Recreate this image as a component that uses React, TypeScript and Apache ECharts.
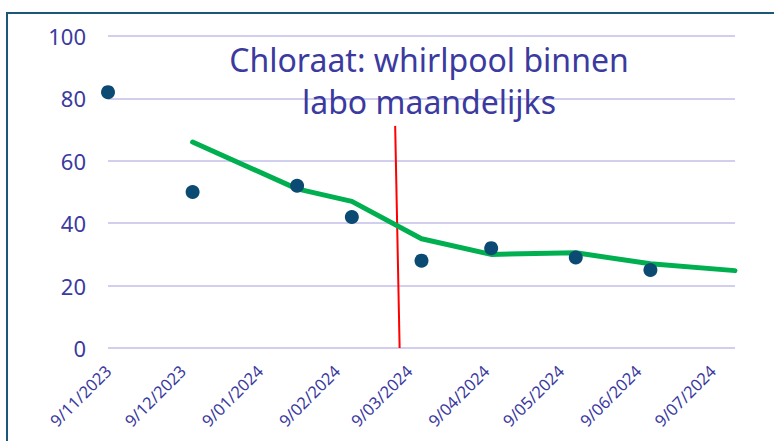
import React, { useEffect, useRef } from "react";
import * as echarts from "echarts";

// Data (dates as [year, monthIndex(0-based), day])
const measureDates: [number, number, number][] = [
  [2023, 10, 9],
  [2023, 11, 13],
  [2024, 0, 24],
  [2024, 1, 15],
  [2024, 2, 14],
  [2024, 3, 11],
  [2024, 4, 15],
  [2024, 5, 14],
];
const chloraatValues = [82, 50, 52, 42, 28, 32, 29, 25];

// moving-average trend line (2 points)
const trendDates: [number, number, number][] = [
  [2023, 11, 13],
  [2024, 0, 24],
  [2024, 1, 15],
  [2024, 2, 14],
  [2024, 3, 11],
  [2024, 4, 15],
  [2024, 5, 14],
  [2024, 6, 18],
];
const trendValues = [66, 51, 47, 35, 30, 30.5, 27, 24.8];

// vertical marker (change moment)
const markerPoints: [string, number][] = [
  ["2024-03-03T10:00:00", 71.2],
  ["2024-03-05T05:00:00", 0],
];

const tickDates: [number, number, number][] = [
  [2023, 10, 9],
  [2023, 11, 9],
  [2024, 0, 9],
  [2024, 1, 9],
  [2024, 2, 9],
  [2024, 3, 9],
  [2024, 4, 9],
  [2024, 5, 9],
  [2024, 6, 9],
];
const axisMinDate: [number, number, number] = [2023, 10, 9];
const axisMaxDate: [number, number, number] = [2024, 6, 18];

const titleText = "Chloraat: whirlpool binnen\nlabo maandelijks";

const ts = (d: [number, number, number]) => new Date(d[0], d[1], d[2]).getTime();
const pad = (n: number) => (n < 10 ? "0" + n : "" + n);
const fmt = (v: number) => {
  const d = new Date(v);
  return `${d.getDate()}/${pad(d.getMonth() + 1)}/${d.getFullYear()}`;
};

export default function App() {
  const ref = useRef<HTMLDivElement>(null);
  useEffect(() => {
    if (!ref.current) return;
    const chart = echarts.init(ref.current, null, { renderer: "svg" });
    const textColor = "#3b3a9f";
    const font = "Noto Sans";
    chart.setOption({
      animation: false,
      backgroundColor: "#ffffff",
      title: {
        text: titleText,
        left: 424,
        top: 33,
        textAlign: "center",
        textStyle: {
          color: textColor,
          fontFamily: font,
          fontSize: 32,
          fontWeight: "normal",
          lineHeight: 42,
        },
      },
      graphic: [
        {
          type: "rect",
          shape: { x: 7, y: 13, width: 800, height: 500 },
          style: { fill: "none", stroke: "#1b5878", lineWidth: 2 },
          silent: true,
        },
      ],
      grid: { left: 108, right: 39, top: 36, bottom: 93, containLabel: false },
      xAxis: {
        type: "value",
        min: ts(axisMinDate),
        max: ts(axisMaxDate),
        axisLine: { show: false },
        axisTick: { show: false },
        splitLine: { show: false },
        axisLabel: {
          customValues: tickDates.map(ts),
          formatter: (v: number) => fmt(v),
          rotate: 45,
          margin: 20,
          color: textColor,
          fontFamily: font,
          fontSize: 16.5,
          hideOverlap: false,
          showMinLabel: true,
          showMaxLabel: true,
        },
      },
      yAxis: {
        type: "value",
        min: 0,
        max: 100,
        interval: 20,
        axisLine: { show: false },
        axisTick: { show: false },
        splitLine: { show: true, lineStyle: { color: "#d2cef0", width: 2 } },
        axisLabel: {
          color: textColor,
          fontFamily: font,
          fontSize: 22,
          margin: 22,
        },
      },
      series: [
        {
          name: "Verandering",
          type: "line",
          data: markerPoints.map((p) => [new Date(p[0]).getTime(), p[1]]),
          symbol: "none",
          lineStyle: { color: "#ff0000", width: 2 },
          z: 1,
        },
        {
          name: "Trend",
          type: "line",
          data: trendDates.map((d, i) => [ts(d), trendValues[i]]),
          symbol: "none",
          lineStyle: { color: "#00b050", width: 5, cap: "round", join: "round" },
          z: 2,
        },
        {
          name: "Chloraat",
          type: "scatter",
          data: measureDates.map((d, i) => [ts(d), chloraatValues[i]]),
          symbolSize: 14,
          itemStyle: { color: "#0b4a72", opacity: 1 },
          clip: false,
          z: 3,
        },
      ],
    });
    return () => chart.dispose();
  }, []);
  return (
    <div
      ref={ref}
      style={{ position: "fixed", left: 0, top: 0, width: 774, height: 441 }}
    />
  );
}
